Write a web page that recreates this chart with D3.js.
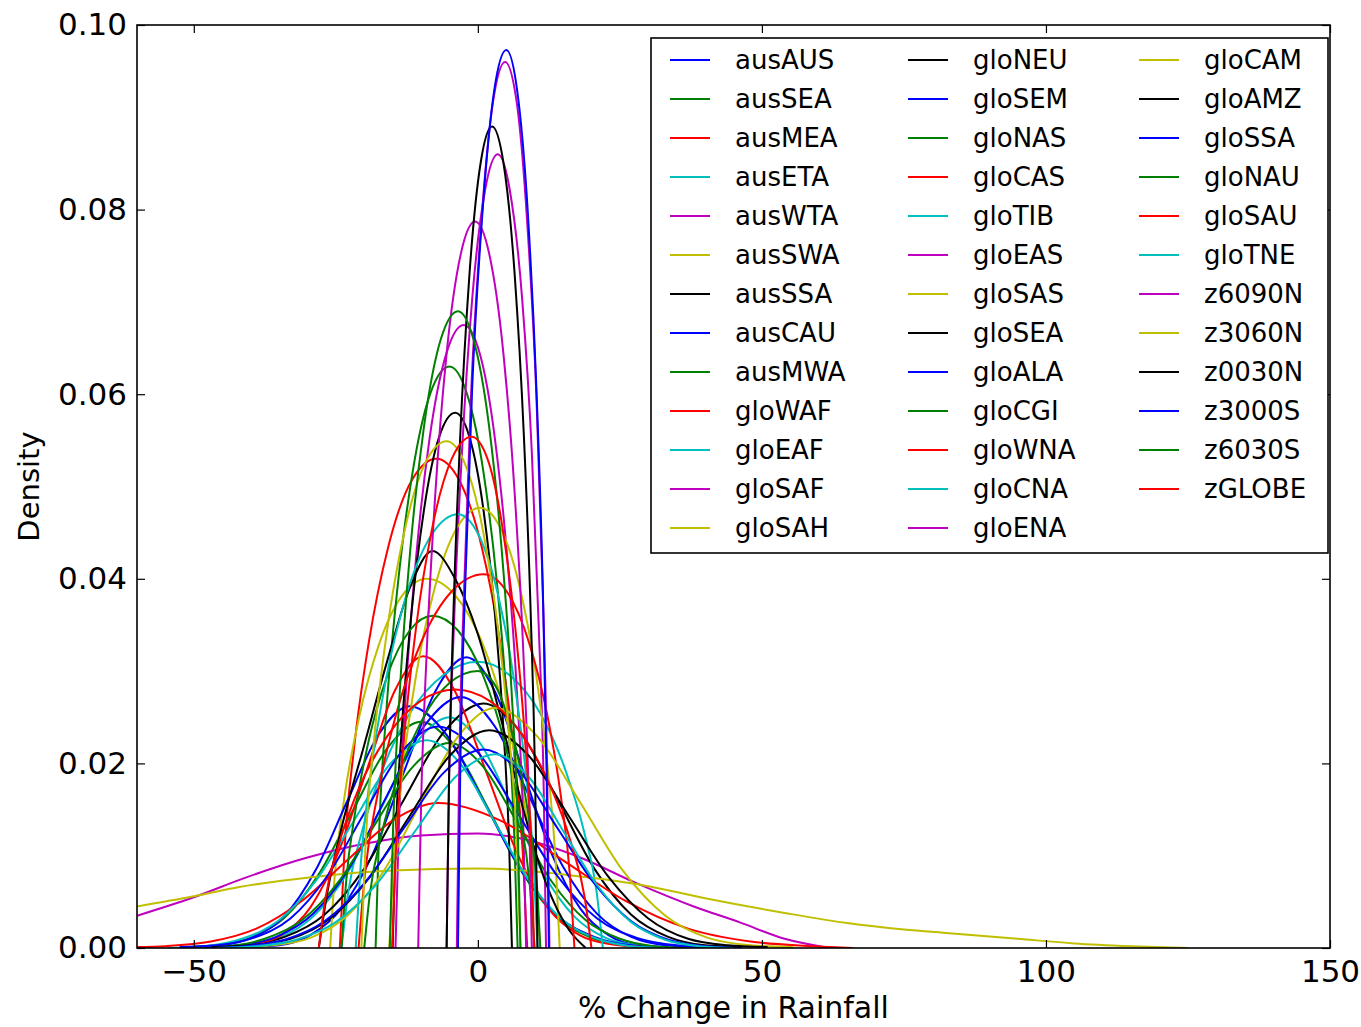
<!DOCTYPE html>
<head>
  <meta charset="utf-8">
  <title>Density of % change in rainfall</title>
  <script src="https://d3js.org/d3.v7.min.js"></script>
  <style>
    body { margin: 0; background: #fff; }
    text { font-family: "DejaVu Sans", sans-serif; fill: #000; }
    .axis path { display: none; }
    .axis line { stroke: #000; stroke-width: 1.2; }
    .axis text { font-size: 31px; }
    .curve { fill: none; stroke-width: 2; }
  </style>
</head>
<body>
<svg width="1361" height="1027"></svg>
<script>

// series names, in legend order
var seriesNames = ['ausAUS','ausSEA','ausMEA','ausETA','ausWTA','ausSWA','ausSSA','ausCAU','ausMWA',
  'gloWAF','gloEAF','gloSAF','gloSAH','gloNEU','gloSEM','gloNAS','gloCAS','gloTIB','gloEAS','gloSAS',
  'gloSEA','gloALA','gloCGI','gloWNA','gloCNA','gloENA','gloCAM','gloAMZ','gloSSA','gloNAU','gloSAU',
  'gloTNE','z6090N','z3060N','z0030N','z3000S','z6030S','zGLOBE'];

var xTicks = [-50, 0, 50, 100, 150];
var yTicks = [0, 0.02, 0.04, 0.06, 0.08, 0.10];

// density curves: [% change, density]
var ausAUS = [[-40.5,.0001],[-35,.0003],[-29.5,.0014],[-24,.0043],[-18.5,.0102],[-13,.0191],[-7.5,.0278],[-2,.0315],[3,.0278],[8,.0191],[13,.0102],[18,.0043],[23,.0014],[28,.0003],[33,.0001]];
var ausSEA = [[-52,.0001],[-46,.0003],[-40,.0011],[-34,.0033],[-28,.008],[-22,.0149],[-16,.0216],[-10,.0245],[-4,.0216],[2,.0149],[8,.008],[14,.0033],[20,.0011],[26,.0003],[32,.0001]];
var ausMEA = [[-24.3,0],[-23.5,.0104],[-21.8,.0216],[-19.2,.0331],[-15.8,.0434],[-11.6,.0507],[-7.3,.053],[-3.3,.0507],[0.7,.0434],[3.9,.0331],[6.3,.0216],[7.9,.0104],[8.7,0]];
var ausETA = [[-47,.0001],[-41,.0003],[-35,.0011],[-29,.0034],[-23,.0081],[-17,.0152],[-11,.0221],[-5,.025],[0.5,.0221],[6,.0152],[11.5,.0081],[17,.0034],[22.5,.0011],[28,.0003],[33.5,.0001]];
var ausWTA = [[-60,.0035],[-50,.0055],[-41,.0076],[-30,.0098],[-20,.0113],[-10,.0122],[0,.0124],[8,.0118],[18,.0098],[28,.007],[38,.0045],[46,.0028],[54,.001],[62,0]];
var ausSWA = [[-26,0],[-25.2,.0078],[-23.5,.0163],[-20.9,.025],[-17.5,.0327],[-13.3,.0382],[-9,.04],[-4,.0382],[1,.0327],[5,.025],[8,.0163],[10,.0078],[11,0]];
var ausSSA = [[-48,.0001],[-41,.0003],[-34,.0012],[-27,.0036],[-20,.0086],[-13,.0161],[-6,.0234],[1,.0265],[7.5,.0234],[14,.0161],[20.5,.0086],[27,.0036],[33.5,.0012],[40,.0003],[46.5,.0001]];
var ausCAU = [[-50.5,.0001],[-45,.0003],[-39.5,.0012],[-34,.0035],[-28.5,.0085],[-23,.0159],[-17.5,.0231],[-12,.0262],[-5.5,.0231],[1,.0159],[7.5,.0085],[14,.0035],[20.5,.0012],[27,.0003],[33.5,.0001]];
var ausMWA = [[-18,0],[-17.4,.0123],[-16.1,.0257],[-14.1,.0393],[-11.5,.0515],[-8.3,.0602],[-5,.063],[-2,.0602],[1,.0515],[3.4,.0393],[5.2,.0257],[6.4,.0123],[7,0]];
var gloWAF = [[-44.6,.0001],[-39.6,.0004],[-34.6,.0014],[-29.6,.0043],[-24.6,.0103],[-19.6,.0192],[-14.6,.0279],[-9.6,.0316],[-4.1,.0279],[1.4,.0192],[6.9,.0103],[12.4,.0043],[17.9,.0014],[23.4,.0004],[28.9,.0001]];
var gloEAF = [[-24,0],[-22.8,.0061],[-20.4,.0126],[-16.8,.0193],[-12,.0254],[-6,.0296],[0,.031],[5.5,.0296],[11,.0254],[15.4,.0193],[18.7,.0126],[20.9,.0061],[22,0]];
var gloSAF = [[-14.5,0],[-13.9,.0132],[-12.7,.0275],[-10.9,.0421],[-8.5,.0552],[-5.5,.0645],[-2.5,.0675],[0.3,.0645],[3,.0552],[5.2,.0421],[6.9,.0275],[8,.0132],[8.5,0]];
var gloSAH = [[-60,.0045],[-50,.0056],[-42,.0066],[-29,.0077],[-15,.0084],[0,.0086],[10,.0083],[20,.0076],[29,.0068],[40,.0054],[54,.0038],[65,.0027],[75,.002],[83,.0016],[95,.001],[105,.0005],[115,.0002],[125,0]];
var gloNEU = [[-15,0],[-14.5,.0114],[-13.4,.0237],[-11.7,.0362],[-9.5,.0474],[-6.8,.0554],[-4,.058],[-1.5,.0554],[1,.0474],[3,.0362],[4.5,.0237],[5.5,.0114],[6,0]];
var gloSEM = [[-48.5,.0001],[-42,.0003],[-35.5,.0012],[-29,.0037],[-22.5,.0088],[-16,.0165],[-9.5,.024],[-3,.0272],[3,.024],[9,.0165],[15,.0088],[21,.0037],[27,.0012],[33,.0003],[39,.0001]];
var gloNAS = [[-50.5,0],[-44,.0002],[-37.5,.001],[-31,.003],[-24.5,.0072],[-18,.0135],[-11.5,.0196],[-5,.0222],[1,.0196],[7,.0135],[13,.0072],[19,.003],[25,.001],[31,.0002],[37,0]];
var gloCAS = [[-60,.0001],[-55,.0002],[-47,.0007],[-39,.0021],[-31,.0051],[-23,.0095],[-15,.0138],[-7,.0157],[4,.0138],[15,.0095],[26,.0051],[37,.0021],[48,.0007],[59,.0002],[66,0]];
var gloTIB = [[-54.5,0],[-48,.0002],[-41.5,.001],[-35,.003],[-28.5,.0073],[-22,.0136],[-15.5,.0199],[-9,.0225],[-3,.0199],[3,.0136],[9,.0073],[15,.003],[21,.001],[27,.0002],[33,0]];
var gloEAS = [[-5.5,0],[-5.1,.0169],[-4.2,.0351],[-2.8,.0537],[-1,.0703],[1.3,.0822],[3.5,.086],[5.6,.0822],[7.8,.0703],[9.5,.0537],[10.7,.0351],[11.6,.0169],[12,0]];
var gloSAS = [[-15.6,0],[-14.8,.0093],[-13.2,.0195],[-10.8,.0298],[-7.6,.039],[-3.6,.0456],[0.4,.0477],[3.9,.0456],[7.4,.039],[10.2,.0298],[12.3,.0195],[13.7,.0093],[14.4,0]];
var gloSEA = [[-28,0],[-26.5,.006],[-24,.013],[-20,.022],[-16,.031],[-12,.039],[-8,.043],[-4,.04],[0,.034],[4,.025],[8,.015],[12,.007],[16,.002],[19,0]];
var gloALA = [[-52.5,.0001],[-46,.0003],[-39.5,.0011],[-33,.0032],[-26.5,.0078],[-20,.0146],[-13.5,.0212],[-7,.024],[0,.0212],[7,.0146],[14,.0078],[21,.0032],[28,.0011],[35,.0003],[42,.0001]];
var gloCGI = [[-24,0],[-23.2,.0071],[-21.6,.0147],[-19.2,.0225],[-16,.0294],[-12,.0344],[-8,.036],[-3.5,.0344],[1,.0294],[4.6,.0225],[7.3,.0147],[9.1,.0071],[10,0]];
var gloWNA = [[-21,0],[-19.9,.0079],[-17.7,.0165],[-14.4,.0253],[-10,.0331],[-4.5,.0387],[1,.0405],[5,.0387],[9,.0331],[12.2,.0253],[14.6,.0165],[16.2,.0079],[17,0]];
var gloCNA = [[-21.5,0],[-20.6,.0092],[-18.8,.0192],[-16.1,.0293],[-12.5,.0384],[-8,.0449],[-3.5,.047],[0,.0449],[3.5,.0384],[6.3,.0293],[8.4,.0192],[9.8,.0092],[10.5,0]];
var gloENA = [[-10.5,0],[-10,.0154],[-9,.0321],[-7.5,.0491],[-5.5,.0644],[-3,.0752],[-0.5,.0787],[2,.0752],[4.5,.0644],[6.5,.0491],[8,.0321],[9,.0154],[9.5,0]];
var gloCAM = [[-42.5,.0001],[-36,.0003],[-29.5,.0011],[-23,.0035],[-16.5,.0084],[-10,.0158],[-3.5,.0229],[3,.026],[10.5,.0229],[18,.0158],[25.5,.0084],[33,.0035],[40.5,.0011],[48,.0003],[55.5,.0001]];
var gloAMZ = [[-47,.0001],[-40,.0003],[-33,.001],[-26,.0032],[-19,.0077],[-12,.0143],[-5,.0208],[2,.0236],[9,.0208],[16,.0143],[23,.0077],[30,.0032],[37,.001],[44,.0003],[51,.0001]];
var gloSSA = [[-48,0],[-41,.0002],[-34,.0009],[-27,.0029],[-20,.007],[-13,.013],[-6,.019],[1,.0215],[7.5,.019],[14,.013],[20.5,.007],[27,.0029],[33.5,.0009],[40,.0002],[46.5,0]];
var gloNAU = [[-20,0],[-19,.0059],[-17,.0122],[-14,.0187],[-10,.0245],[-5,.0287],[0,.03],[2.8,.0287],[5.5,.0245],[7.7,.0187],[9.4,.0122],[10.5,.0059],[11,0]];
var gloSAU = [[-28,0],[-26.8,.0055],[-24.4,.0114],[-20.8,.0175],[-16,.0229],[-10,.0268],[-4,.028],[2,.0268],[8,.0229],[12.8,.0175],[16.4,.0114],[18.8,.0055],[20,0]];
var gloTNE = [[-46,0],[-39,.0002],[-32,.0009],[-25,.0028],[-18,.0068],[-11,.0127],[-4,.0185],[3,.021],[9,.0185],[15,.0127],[21,.0068],[27,.0028],[33,.0009],[39,.0002],[45,0]];
var z6090N = [[-3.7,0],[-3.3,.0188],[-2.4,.0392],[-1.2,.0599],[0.6,.0785],[2.7,.0918],[4.8,.096],[6.8,.0918],[8.7,.0785],[10.3,.0599],[11.4,.0392],[12.2,.0188],[12.6,0]];
var z3060N = [[-20.5,0],[-19.8,.0108],[-18.3,.0224],[-16,.0343],[-13,.0449],[-9.3,.0525],[-5.5,.0549],[-2.3,.0525],[1,.0449],[3.6,.0343],[5.6,.0224],[6.9,.0108],[7.5,0]];
var z0030N = [[-5.5,0],[-5.1,.0174],[-4.3,.0363],[-3.1,.0555],[-1.5,.0728],[0.5,.0851],[2.5,.089],[4.5,.0851],[6.5,.0728],[8.1,.0555],[9.3,.0363],[10.1,.0174],[10.5,0]];
var z3000S = [[-3.5,0],[-3.1,.0191],[-2.2,.0397],[-1,.0607],[0.8,.0796],[2.9,.093],[5,.0973],[6.9,.093],[8.8,.0796],[10.3,.0607],[11.4,.0397],[12.1,.0191],[12.5,0]];
var z6030S = [[-15.5,0],[-14.9,.0135],[-13.7,.0282],[-11.9,.0431],[-9.5,.0564],[-6.5,.066],[-3.5,.069],[-0.8,.066],[2,.0564],[4.2,.0431],[5.9,.0282],[7,.0135],[7.5,0]];
var zGLOBE = [[-15.1,0],[-14.4,.0109],[-13,.0226],[-10.9,.0346],[-8.1,.0453],[-4.6,.053],[-1.1,.0554],[1.7,.053],[4.4,.0453],[6.6,.0346],[8.3,.0226],[9.4,.0109],[9.9,0]];

var curves = [ausAUS, ausSEA, ausMEA, ausETA, ausWTA, ausSWA, ausSSA, ausCAU, ausMWA,
  gloWAF, gloEAF, gloSAF, gloSAH, gloNEU, gloSEM, gloNAS, gloCAS, gloTIB, gloEAS, gloSAS,
  gloSEA, gloALA, gloCGI, gloWNA, gloCNA, gloENA, gloCAM, gloAMZ, gloSSA, gloNAU, gloSAU,
  gloTNE, z6090N, z3060N, z0030N, z3000S, z6030S, zGLOBE];

// old matplotlib colour cycle b g r c m y k
var cycle = ['#0000ff', '#008000', '#ff0000', '#00bfbf', '#bf00bf', '#bfbf00', '#000000'];

var svg = d3.select('svg');
var margin = {top: 25, right: 31, bottom: 79, left: 137};
var width = +svg.attr('width') - margin.left - margin.right;
var height = +svg.attr('height') - margin.top - margin.bottom;

var x = d3.scaleLinear().domain([-60, 150]).range([0, width]);
var y = d3.scaleLinear().domain([0, 0.10]).range([height, 0]);

var g = svg.append('g')
  .attr('transform', 'translate(' + margin.left + ',' + margin.top + ')');

svg.append('defs').append('clipPath').attr('id', 'clip')
  .append('rect').attr('width', width).attr('height', height);

var line = d3.line()
  .curve(d3.curveMonotoneX)
  .x(function(d) { return x(d[0]); })
  .y(function(d) { return y(d[1]); });

var plot = g.append('g').attr('clip-path', 'url(#clip)');
curves.forEach(function(c, i) {
  plot.append('path')
    .datum(c)
    .attr('class', 'curve')
    .attr('stroke', cycle[i % 7])
    .attr('d', line);
});

// axes, ticks pointing inward on all four sides
g.append('g').attr('class', 'axis')
  .attr('transform', 'translate(0,' + height + ')')
  .call(d3.axisBottom(x).tickValues(xTicks).tickSize(-8).tickPadding(12));
g.append('g').attr('class', 'axis')
  .call(d3.axisTop(x).tickValues(xTicks).tickSize(-8).tickFormat(''));
g.append('g').attr('class', 'axis')
  .call(d3.axisLeft(y).tickValues(yTicks).tickSize(-8).tickPadding(10).tickFormat(d3.format('.2f')));
g.append('g').attr('class', 'axis')
  .attr('transform', 'translate(' + width + ',0)')
  .call(d3.axisRight(y).tickValues(yTicks).tickSize(-8).tickFormat(''));

g.append('rect')
  .attr('width', width).attr('height', height)
  .attr('fill', 'none').attr('stroke', '#000').attr('stroke-width', 1.6);

// axis titles
g.append('text')
  .attr('x', width / 2).attr('y', height + 70)
  .attr('text-anchor', 'middle')
  .style('font-size', '30px')
  .text('% Change in Rainfall');

g.append('text')
  .attr('transform', 'translate(' + (-98) + ',' + (height / 2) + ') rotate(-90)')
  .attr('text-anchor', 'middle')
  .style('font-size', '29px')
  .text('Density');

// legend: 3 columns of 13 rows
var legend = g.append('g').attr('transform', 'translate(' + (651 - margin.left) + ',' + (38 - margin.top) + ')');
legend.append('rect')
  .attr('width', 677).attr('height', 515)
  .attr('fill', '#fff').attr('stroke', '#000').attr('stroke-width', 1.6);

var colX = [19, 257, 488];
seriesNames.forEach(function(name, i) {
  var col = Math.floor(i / 13), row = i % 13;
  var item = legend.append('g')
    .attr('transform', 'translate(' + colX[col] + ',' + (22 + row * 39) + ')');
  item.append('line')
    .attr('x1', 0).attr('x2', 40)
    .attr('stroke', cycle[i % 7]).attr('stroke-width', 2.2);
  item.append('text')
    .attr('x', 65).attr('dy', '0.35em')
    .style('font-size', '26px')
    .text(name);
});

</script>
</body>
